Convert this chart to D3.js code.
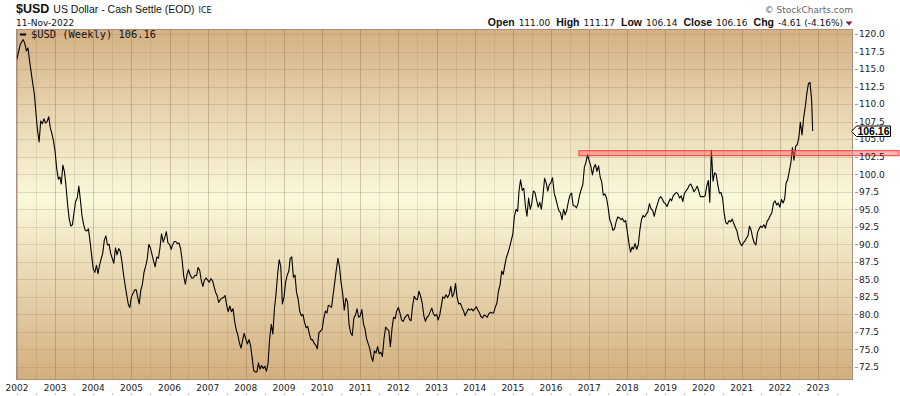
<!DOCTYPE html>
<html>
<head>
<meta charset="utf-8">
<style>
    html, body { margin: 0; padding: 0; background: #fff; }
    svg { display: block; }
    .axis-text { font-family: "DejaVu Sans", sans-serif; font-size: 9px; fill: #222; }
</style>
<script src="https://cdn.jsdelivr.net/npm/d3@7/dist/d3.min.js"></script>
</head>
<body>
<svg id="chart"></svg>
<script>
const usd2002 = [116.4, 117.5, 118.5, 118.9, 119.2, 118.7, 117.6, 118.0, 116.2, 114.6, 112.9, 111.5, 108.8, 106.3, 104.6, 107.6, 107.2, 107.9, 107.3, 107.5, 108.2, 106.6, 105.8, 104.8];
const usd2003 = [103.2, 100.8, 99.3, 99.6, 98.6, 101.3, 100.3, 98.2, 95.6, 93.6, 92.6, 92.8, 94.5, 96.1, 96.6, 98.3, 96.2, 94.0, 92.8, 92.0, 91.9, 92.2, 90.5, 88.5];
const usd2004 = [86.5, 86.0, 87.0, 85.8, 87.0, 87.9, 88.7, 90.6, 91.2, 89.9, 90.0, 88.7, 88.0, 87.3, 89.5, 88.5, 89.4, 89.0, 87.6, 85.8, 84.2, 82.8, 81.5, 81.0];
const usd2005 = [82.5, 83.0, 83.5, 83.5, 82.5, 81.5, 83.5, 84.3, 86.0, 86.8, 87.9, 90.0, 89.5, 88.6, 87.6, 86.8, 88.2, 88.0, 89.5, 91.5, 90.3, 91.0, 91.8, 90.2];
const usd2006 = [90.0, 89.3, 90.0, 90.4, 90.4, 90.1, 90.2, 89.4, 87.8, 85.5, 84.3, 85.6, 86.4, 85.7, 85.2, 85.2, 85.6, 85.5, 86.7, 86.3, 84.8, 84.0, 84.9, 85.2];
const usd2007 = [84.9, 84.6, 85.1, 84.8, 84.1, 83.2, 82.7, 81.7, 82.1, 82.3, 82.4, 82.7, 81.4, 80.4, 81.2, 80.4, 80.8, 79.0, 77.8, 77.1, 75.9, 75.2, 76.3, 77.3];
const usd2008 = [76.5, 75.8, 76.4, 75.5, 73.9, 72.0, 71.8, 71.8, 73.1, 72.2, 72.7, 72.3, 72.6, 71.9, 73.0, 76.5, 78.6, 77.2, 80.8, 82.9, 85.8, 87.8, 86.8, 81.5];
const usd2009 = [82.5, 84.6, 85.6, 86.2, 88.0, 88.2, 85.3, 85.6, 83.1, 82.2, 80.4, 79.8, 80.0, 78.9, 78.1, 78.3, 77.2, 76.4, 76.4, 75.9, 75.6, 75.1, 77.4, 77.6];
const usd2010 = [77.9, 79.4, 80.5, 80.2, 81.3, 81.2, 81.0, 82.8, 84.5, 86.3, 88.0, 86.8, 84.6, 83.0, 80.6, 82.3, 81.8, 78.5, 77.4, 77.0, 79.5, 79.9, 80.8, 79.6];
const usd2011 = [79.8, 80.7, 78.6, 77.9, 76.6, 75.9, 75.2, 74.0, 73.3, 74.8, 74.5, 75.4, 74.4, 74.6, 74.0, 76.5, 78.2, 77.9, 77.7, 75.4, 78.0, 79.6, 79.4, 80.5];
const usd2012 = [81.0, 80.2, 79.2, 79.0, 79.5, 79.8, 80.0, 79.3, 79.1, 81.2, 82.6, 82.2, 82.1, 83.3, 82.6, 81.6, 79.8, 79.0, 79.6, 79.8, 80.4, 80.9, 80.1, 79.8];
const usd2013 = [80.0, 79.2, 80.0, 81.3, 82.5, 82.3, 82.8, 82.4, 82.8, 84.0, 82.5, 83.0, 84.4, 82.4, 81.5, 81.6, 81.0, 80.5, 79.8, 80.3, 80.8, 80.6, 80.8, 80.5];
const usd2014 = [80.8, 81.1, 80.6, 80.2, 79.7, 79.5, 79.9, 79.8, 79.6, 80.1, 80.3, 80.2, 80.2, 81.0, 81.6, 83.3, 84.2, 86.2, 85.7, 87.0, 88.2, 88.8, 89.6, 90.5];
const usd2015 = [91.5, 94.0, 95.0, 94.7, 97.6, 99.2, 97.7, 98.0, 95.5, 94.0, 96.6, 95.0, 95.8, 97.6, 97.4, 96.3, 95.3, 96.0, 95.0, 96.9, 99.4, 98.8, 97.6, 98.5];
const usd2016 = [98.8, 99.5, 97.3, 96.5, 95.7, 94.8, 94.5, 93.5, 95.0, 94.2, 94.9, 96.1, 97.0, 97.3, 95.5, 95.5, 95.2, 95.8, 97.0, 97.8, 98.5, 101.0, 101.7, 102.8];
const usd2017 = [101.9, 101.2, 99.9, 101.0, 101.4, 100.4, 101.2, 99.6, 98.9, 97.0, 97.2, 96.6, 95.3, 93.6, 92.9, 92.0, 92.2, 93.2, 93.9, 93.8, 93.5, 93.7, 93.2, 93.4];
const usd2018 = [91.8, 90.2, 88.9, 89.6, 89.3, 90.1, 89.3, 89.9, 92.0, 93.5, 94.1, 93.9, 94.3, 94.6, 95.8, 95.1, 94.8, 94.0, 95.0, 95.7, 96.5, 96.8, 96.5, 96.0];
const usd2019 = [95.8, 95.4, 96.0, 96.5, 96.2, 96.9, 97.2, 97.4, 97.2, 96.6, 96.9, 96.1, 97.2, 97.6, 97.9, 98.4, 98.6, 98.1, 97.5, 97.8, 98.3, 97.6, 96.8, 96.8];
const usd2020 = [96.8, 96.9, 98.3, 99.1, 96.0, 103.4, 99.0, 100.2, 100.0, 98.5, 97.3, 97.4, 96.6, 94.5, 93.1, 92.9, 93.4, 93.2, 93.6, 93.0, 92.4, 91.9, 90.8, 90.2];
const usd2021 = [89.8, 90.2, 90.5, 90.9, 91.2, 92.6, 92.0, 90.9, 90.2, 89.9, 91.7, 92.2, 92.6, 92.4, 92.8, 92.3, 93.3, 93.6, 94.1, 94.5, 95.9, 96.2, 95.6, 95.9];
const usd2022 = [95.3, 96.4, 95.9, 96.5, 98.7, 99.2, 100.4, 101.6, 103.8, 102.0, 104.0, 104.2, 105.2, 107.4, 105.6, 108.0, 109.6, 111.5, 112.9, 113.1, 110.6];

const lastDate = '2022-11-11';
const lastClose = 106.16;

const yTicks = [72.5, 75, 77.5, 80, 82.5, 85, 87.5, 90, 92.5, 95, 97.5, 100, 102.5, 105, 107.5, 110, 112.5, 115, 117.5, 120];
const yearTicks = ['2002', '2003', '2004', '2005', '2006', '2007', '2008', '2009', '2010', '2011', '2012',
    '2013', '2014', '2015', '2016', '2017', '2018', '2019', '2020', '2021', '2022', '2023'];

const quoteLabels = ['Open', 'High', 'Low', 'Close', 'Chg'];
const quoteValues = ['111.00', '111.17', '106.14', '106.16', '-4.61 (-4.16%)'];

// horizontal resistance band
const resistanceLevel = 103.0;
const resistanceStart = '2016-09-25';

const W = 900, H = 396;
const padding = { top: 29, right: 47, bottom: 16, left: 16 };
const plotL = padding.left, plotR = W - padding.right;
const plotT = padding.top, plotB = H - padding.bottom;

const parseDate = d3.timeParse('%Y-%m-%d');

// 拼接成一个序列
let series = [];
[usd2002, usd2003, usd2004, usd2005, usd2006, usd2007, usd2008, usd2009, usd2010, usd2011, usd2012,
    usd2013, usd2014, usd2015, usd2016, usd2017, usd2018, usd2019, usd2020, usd2021, usd2022]
    .forEach(function(vals, k) {
        vals.forEach(function(v, i) {
            series.push({ date: new Date(2002 + k, Math.floor(i / 2), i % 2 ? 16 : 1), value: v });
        });
    });
series.push({ date: parseDate(lastDate), value: lastClose });

const x = d3.scaleTime()
    .domain([new Date(2002, 0, 1), new Date(2023, 0, 1)])
    .range([17, 818]);
const y = d3.scaleLinear()
    .domain([72.5, 120])
    .range([367, 34]);

const svg = d3.select('#chart').attr('width', W).attr('height', H);

// 背景渐变
const renderBackground = function() {
    let defs = svg.append('defs');
    let grad = defs.append('linearGradient')
        .attr('id', 'bg')
        .attr('x1', 0).attr('y1', 0).attr('x2', 0).attr('y2', 1);
    grad.append('stop').attr('offset', '0%').attr('stop-color', '#d5b184');
    grad.append('stop').attr('offset', '48%').attr('stop-color', '#faf9db');
    grad.append('stop').attr('offset', '100%').attr('stop-color', '#d3ae7e');

    defs.append('clipPath').attr('id', 'plot-clip')
        .append('rect')
        .attr('x', plotL).attr('y', plotT)
        .attr('width', plotR - plotL).attr('height', plotB - plotT);

    svg.append('rect')
        .attr('x', plotL).attr('y', plotT)
        .attr('width', plotR - plotL).attr('height', plotB - plotT)
        .attr('fill', 'url(#bg)');
};

// 网格
const renderGrid = function() {
    let g = svg.append('g').attr('class', 'grid').attr('clip-path', 'url(#plot-clip)');
    let months = d3.timeMonth.every(6).range(x.invert(plotL), x.invert(plotR));
    g.selectAll('line.v')
        .data(months)
        .enter()
        .append('line')
        .attr('class', 'v')
        .attr('x1', d => Math.round(x(d)) + 0.5)
        .attr('x2', d => Math.round(x(d)) + 0.5)
        .attr('y1', plotT).attr('y2', plotB)
        .attr('stroke', d => d.getMonth() === 0 ? 'rgba(125,95,65,0.32)' : 'rgba(140,110,80,0.17)')
        .attr('stroke-width', 1);

    g.selectAll('line.h')
        .data(yTicks)
        .enter()
        .append('line')
        .attr('class', 'h')
        .attr('x1', plotL).attr('x2', plotR)
        .attr('y1', d => Math.round(y(d)) + 0.5)
        .attr('y2', d => Math.round(y(d)) + 0.5)
        .attr('stroke', 'rgba(140,110,80,0.22)')
        .attr('stroke-width', 1);
};

// 价格线
const renderLine = function() {
    let line = d3.line()
        .x(d => x(d.date))
        .y(d => y(d.value));
    svg.append('path')
        .datum(series)
        .attr('clip-path', 'url(#plot-clip)')
        .attr('d', line)
        .attr('fill', 'none')
        .attr('stroke', '#000')
        .attr('stroke-width', 1.1)
        .attr('stroke-linejoin', 'round');
};

// 阻力带
const renderBand = function() {
    let yc = y(resistanceLevel);
    let x0 = x(parseDate(resistanceStart));
    svg.append('rect')
        .attr('x', x0).attr('y', yc - 2.5)
        .attr('width', W - 1 - x0).attr('height', 5)
        .attr('fill', 'rgba(255,90,90,0.45)')
        .attr('stroke', '#ff3b3b')
        .attr('stroke-width', 1);
};

// 边框和坐标轴
const renderAxes = function() {
    svg.append('rect')
        .attr('x', plotL + 0.5).attr('y', plotT + 0.5)
        .attr('width', plotR - plotL - 1).attr('height', plotB - plotT - 1)
        .attr('fill', 'none')
        .attr('stroke', '#a88f7f')
        .attr('stroke-width', 1);

    let yAxis = svg.append('g').attr('class', 'y-axis');
    yAxis.selectAll('line')
        .data(yTicks)
        .enter()
        .append('line')
        .attr('x1', plotR + 2).attr('x2', plotR + 5)
        .attr('y1', d => Math.round(y(d)) + 0.5)
        .attr('y2', d => Math.round(y(d)) + 0.5)
        .attr('stroke', '#999');
    yAxis.selectAll('text')
        .data(yTicks)
        .enter()
        .append('text')
        .attr('class', 'axis-text')
        .attr('x', plotR + 6)
        .attr('y', d => y(d) + 3.3)
        .text(d => d3.format('.1f')(d));

    let xAxis = svg.append('g').attr('class', 'x-axis');
    xAxis.selectAll('text')
        .data(yearTicks)
        .enter()
        .append('text')
        .attr('class', 'axis-text')
        .attr('text-anchor', 'middle')
        .attr('x', d => x(parseDate(d + '-01-01')))
        .attr('y', plotB + 11)
        .text(d => d);

    let halfYears = d3.timeMonth.every(6).range(x.invert(plotL), x.invert(plotR));
    xAxis.selectAll('line')
        .data(halfYears)
        .enter()
        .append('line')
        .attr('x1', d => Math.round(x(d)) + 0.5)
        .attr('x2', d => Math.round(x(d)) + 0.5)
        .attr('y1', plotB + 13).attr('y2', plotB + 15)
        .attr('stroke', '#c4c4c4');
};

// 最新价标签
const renderPriceTag = function() {
    let yc = Math.round(y(lastClose)) + 0.5;
    let x0 = plotR - 1.5, x1 = plotR + 3.5, x2 = plotR + 37.5;
    svg.append('path')
        .attr('d', 'M' + x0 + ',' + yc + 'L' + x1 + ',' + (yc - 5.5) + 'L' + x2 + ',' + (yc - 5.5) +
            'L' + x2 + ',' + (yc + 5) + 'L' + x1 + ',' + (yc + 5) + 'Z')
        .attr('fill', '#fff')
        .attr('stroke', '#000')
        .attr('stroke-width', 1);
    svg.append('text')
        .attr('x', (x1 + x2) / 2)
        .attr('y', yc + 3.6)
        .attr('text-anchor', 'middle')
        .style('font-family', '"Liberation Sans", Arial, sans-serif')
        .style('font-size', '10.5px')
        .style('font-weight', 'bold')
        .attr('fill', '#000')
        .text(d3.format('.2f')(lastClose));
};

// 标题、日期、图例、行情
const renderHeader = function() {
    let title = svg.append('text').attr('x', 16).attr('y', 13).attr('fill', '#111');
    title.append('tspan')
        .style('font-family', '"Liberation Sans", Arial, sans-serif')
        .style('font-size', '12.5px').style('font-weight', 'bold')
        .text('$USD');
    title.append('tspan')
        .attr('dx', 4)
        .style('font-family', '"Liberation Sans", Arial, sans-serif')
        .style('font-size', '10.5px')
        .text('US Dollar - Cash Settle (EOD)');
    title.append('tspan')
        .attr('dx', 4)
        .style('font-family', '"DejaVu Sans", sans-serif')
        .style('font-size', '8px')
        .text('ICE');

    svg.append('text')
        .attr('x', 16).attr('y', 25.5)
        .style('font-family', '"DejaVu Sans", sans-serif')
        .style('font-size', '9px')
        .attr('fill', '#111')
        .text('11-Nov-2022');

    svg.append('text')
        .attr('x', plotR).attr('y', 12.5)
        .attr('text-anchor', 'end')
        .style('font-family', '"DejaVu Sans", sans-serif')
        .style('font-size', '9px')
        .attr('fill', '#666')
        .text('\u00a9 StockCharts.com');

    let quote = svg.append('text')
        .attr('x', 843).attr('y', 26)
        .attr('text-anchor', 'end')
        .attr('fill', '#111');
    quoteLabels.forEach(function(lab, i) {
        quote.append('tspan')
            .attr('dx', i ? 6 : 0)
            .style('font-family', '"Liberation Sans", Arial, sans-serif')
            .style('font-size', '10.5px').style('font-weight', 'bold')
            .text(lab);
        quote.append('tspan')
            .attr('dx', 4)
            .style('font-family', '"DejaVu Sans", sans-serif')
            .style('font-size', '9px')
            .text(quoteValues[i]);
    });
    svg.append('path')
        .attr('d', 'M845.5,21.5L852.5,21.5L849,25.5Z')
        .attr('fill', '#8b1a3d');

    // 图例
    svg.append('line')
        .attr('x1', 20).attr('x2', 26)
        .attr('y1', 34.5).attr('y2', 34.5)
        .attr('stroke', '#000').attr('stroke-width', 2);
    svg.append('text')
        .attr('x', 31).attr('y', 38)
        .style('font-family', '"DejaVu Sans Mono", monospace')
        .style('font-size', '10.4px')
        .attr('fill', '#111')
        .text('$USD (Weekly) ' + d3.format('.2f')(lastClose));
};

renderBackground();
renderGrid();
renderLine();
renderBand();
renderAxes();
renderPriceTag();
renderHeader();
</script>
</body>
</html>
